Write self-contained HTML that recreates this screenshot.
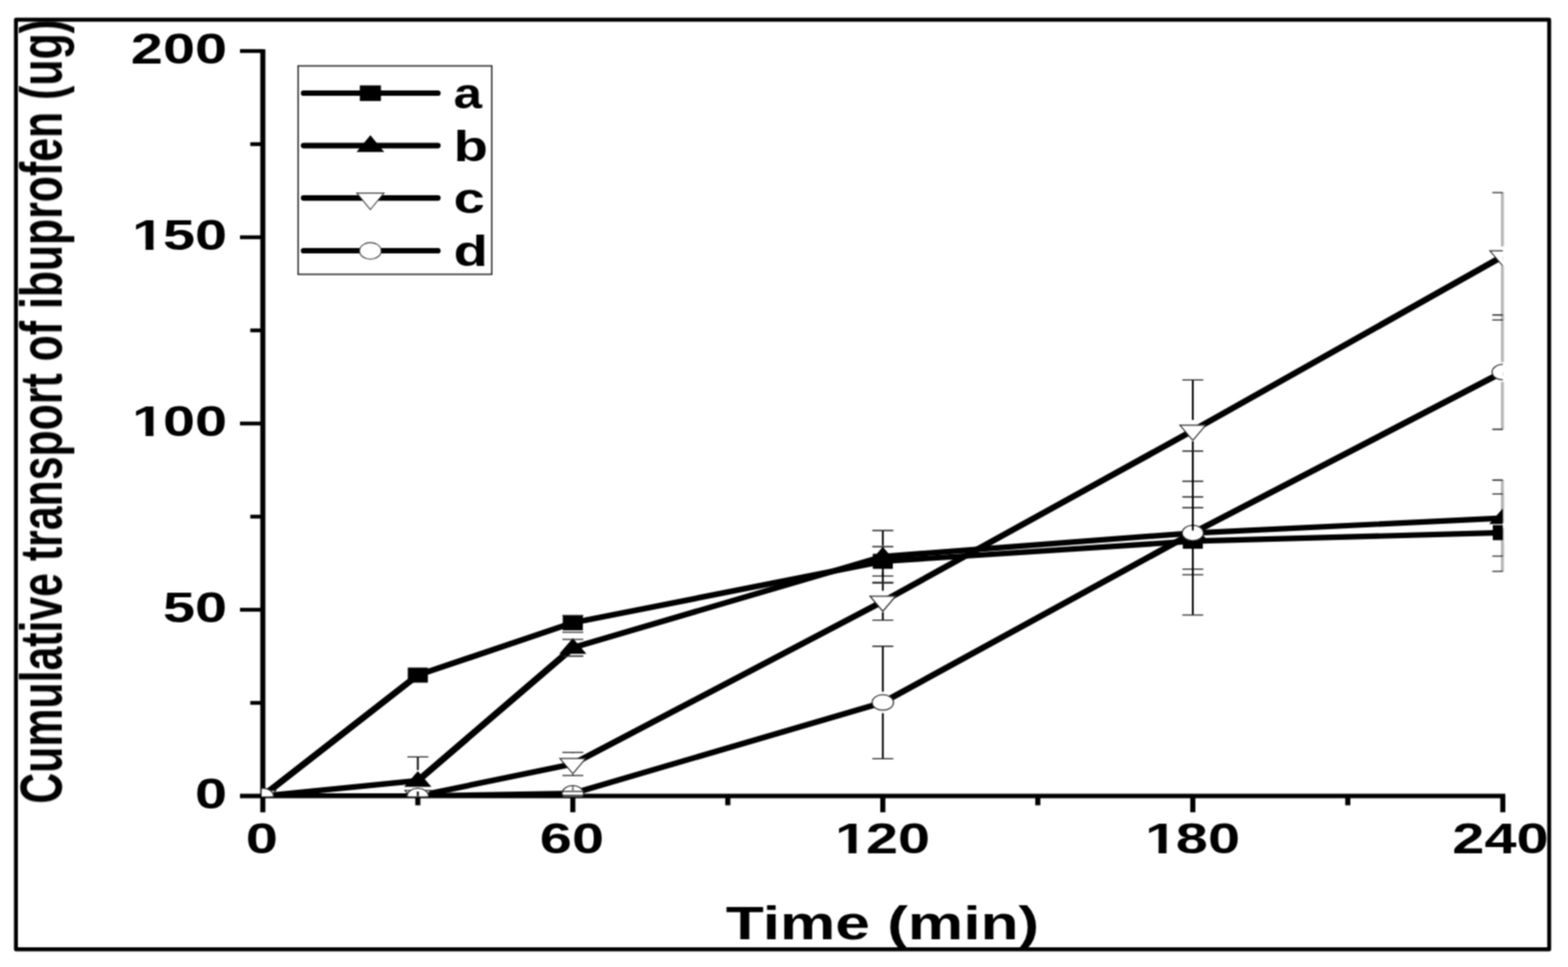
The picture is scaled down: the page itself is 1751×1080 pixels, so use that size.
<!DOCTYPE html>
<html lang="en"><head><meta charset="utf-8"><title>Cumulative transport of ibuprofen</title>
<style>html,body{margin:0;padding:0;background:#fff;}body{width:1751px;height:1080px;overflow:hidden;position:relative;}svg{display:block;position:absolute;left:0;top:0;}text{font-family:"Liberation Sans", Arial, Helvetica, sans-serif;font-weight:bold;fill:#000;}</style></head><body>
<svg width="1751" height="1080" viewBox="0 0 1751 1080" role="img" aria-label="Cumulative transport of ibuprofen (ug) versus Time (min) for series a, b, c and d">
<defs>
<clipPath id="plot"><rect x="292.30" y="30" width="1385.90" height="859.60"/></clipPath>
<filter id="soft" x="0" y="0" width="1751" height="1080" filterUnits="userSpaceOnUse" color-interpolation-filters="sRGB"><feConvolveMatrix order="3" kernelMatrix="1 2 1 2 4 2 1 2 1" edgeMode="duplicate" preserveAlpha="false"/></filter>
<clipPath id="one"><path d="M-100.00 -60H20V20H-52.62V-5.65H-61.20V20H-67.78V-5.65H-100.00Z"/></clipPath>
</defs>
<rect x="0" y="0" width="1751" height="1080" fill="#fff"/>
<g filter="url(#soft)">
<rect x="17.8" y="22" width="1712.2" height="1038.3" fill="none" stroke="#000" stroke-width="4.4" stroke-linejoin="round"/>
<text transform="translate(253.60 902.60) scale(1.3430 1.0100)" font-size="48" text-anchor="end">0</text>
<text transform="translate(253.60 694.60) scale(1.3430 1.0100)" font-size="48" text-anchor="end">50</text>
<text transform="translate(253.60 486.60) scale(1.3430 1.0100)" font-size="48" x="-78.986 -53.391 -26.695" clip-path="url(#one)">100</text>
<text transform="translate(253.60 278.60) scale(1.3430 1.0100)" font-size="48" x="-78.986 -53.391 -26.695" clip-path="url(#one)">150</text>
<text transform="translate(253.60 70.60) scale(1.3430 1.0100)" font-size="48" text-anchor="end">200</text>
<text transform="translate(310.40 953.30) scale(1.3430 1.0100)" font-size="48" text-anchor="end">0</text>
<text transform="translate(674.50 953.30) scale(1.3430 1.0100)" font-size="48" text-anchor="end">60</text>
<text transform="translate(1038.60 953.30) scale(1.3430 1.0100)" font-size="48" x="-78.986 -53.391 -26.695" clip-path="url(#one)">120</text>
<text transform="translate(1384.80 953.30) scale(1.3430 1.0100)" font-size="48" x="-78.986 -53.391 -26.695" clip-path="url(#one)">180</text>
<text transform="translate(1729.40 953.30) scale(1.3430 1.0100)" font-size="48" text-anchor="end">240</text>
<text transform="translate(985.50 1048.80) scale(1.3900 1.0400)" font-size="50" text-anchor="middle">Time (min)</text>
<text transform="translate(69.0 459.5) rotate(-90) scale(0.996 1.385)" font-size="48" text-anchor="middle">Cumulative transport of ibuprofen (ug)</text>
<g stroke="#000" fill="none" stroke-linecap="butt">
<line x1="293.50" y1="55" x2="293.50" y2="907.2" stroke-width="5.7"/>
<line x1="268" y1="889.00" x2="1681" y2="889.00" stroke-width="5"/>
<line x1="268" y1="681.00" x2="293.50" y2="681.00" stroke-width="4.3"/>
<line x1="268" y1="473.00" x2="293.50" y2="473.00" stroke-width="4.3"/>
<line x1="268" y1="265.00" x2="293.50" y2="265.00" stroke-width="4.3"/>
<line x1="268" y1="57.00" x2="293.50" y2="57.00" stroke-width="4.3"/>
<line x1="279.5" y1="785.00" x2="293.50" y2="785.00" stroke-width="4.3"/>
<line x1="279.5" y1="577.00" x2="293.50" y2="577.00" stroke-width="4.3"/>
<line x1="279.5" y1="369.00" x2="293.50" y2="369.00" stroke-width="4.3"/>
<line x1="279.5" y1="161.00" x2="293.50" y2="161.00" stroke-width="4.3"/>
<line x1="639.67" y1="889.00" x2="639.67" y2="907.2" stroke-width="5.7"/>
<line x1="985.85" y1="889.00" x2="985.85" y2="907.2" stroke-width="5.7"/>
<line x1="1332.03" y1="889.00" x2="1332.03" y2="907.2" stroke-width="5.7"/>
<line x1="1678.20" y1="889.00" x2="1678.20" y2="907.2" stroke-width="5.7"/>
<line x1="466.59" y1="889.00" x2="466.59" y2="899.4" stroke-width="5.7"/>
<line x1="812.76" y1="889.00" x2="812.76" y2="899.4" stroke-width="5.7"/>
<line x1="1158.94" y1="889.00" x2="1158.94" y2="899.4" stroke-width="5.7"/>
<line x1="1505.11" y1="889.00" x2="1505.11" y2="899.4" stroke-width="5.7"/>
</g>
<path d="M1677.75 551.62V583.89M1677.75 605.89V638.15" fill="none" stroke="#b6b6b6" stroke-width="3.3"/>
<path d="M1677.75 536.23V567.66M1677.75 589.66V621.10" fill="none" stroke="#b6b6b6" stroke-width="3.3"/>
<path d="M1677.75 215.08V275.22M1677.75 297.22V357.35" fill="none" stroke="#b6b6b6" stroke-width="3.3"/>
<path d="M1677.75 351.74V404.59M1677.75 426.59V479.45" fill="none" stroke="#b6b6b6" stroke-width="3.3"/>
<g clip-path="url(#plot)">
<polyline transform="scale(1.39 1)" points="211.151,889.00 335.674,754.01 460.198,695.56 709.245,626.92 958.291,604.46 1207.338,594.89" fill="none" stroke="#000" stroke-width="6.20" stroke-linejoin="round"/>
<rect x="282.30" y="880.60" width="22.4" height="16.8" fill="#000"/>
<rect x="455.39" y="745.61" width="22.4" height="16.8" fill="#000"/>
<rect x="628.47" y="687.16" width="22.4" height="16.8" fill="#000"/>
<rect x="974.65" y="618.52" width="22.4" height="16.8" fill="#000"/>
<rect x="1320.83" y="596.06" width="22.4" height="16.8" fill="#000"/>
<rect x="1667.00" y="586.49" width="22.4" height="16.8" fill="#000"/>
<polyline transform="scale(1.39 1)" points="211.151,889.00 335.674,871.94 460.198,723.43 709.245,621.51 958.291,595.30 1207.338,578.66" fill="none" stroke="#000" stroke-width="6.20" stroke-linejoin="round"/>
<polygon points="293.50,878.20 308.70,895.70 278.30,895.70" fill="#000"/>
<polygon points="466.59,861.14 481.79,878.64 451.39,878.64" fill="#000"/>
<polygon points="639.67,712.63 654.88,730.13 624.47,730.13" fill="#000"/>
<polygon points="985.85,610.71 1001.05,628.21 970.65,628.21" fill="#000"/>
<polygon points="1332.03,584.50 1347.23,602.00 1316.83,602.00" fill="#000"/>
<polygon points="1678.20,567.86 1693.40,585.36 1663.00,585.36" fill="#000"/>
<polyline transform="scale(1.39 1)" points="211.151,889.00 335.674,889.00 460.198,853.22 709.245,671.85 958.291,480.90 1207.338,286.22" fill="none" stroke="#000" stroke-width="6.20" stroke-linejoin="round"/>
<polygon points="293.50,899.90 307.90,882.90 279.10,882.90" fill="#fff" stroke="#2a2a2a" stroke-width="1.25"/>
<polygon points="466.59,899.90 480.99,882.90 452.19,882.90" fill="#fff" stroke="#2a2a2a" stroke-width="1.25"/>
<polygon points="639.67,864.12 654.07,847.12 625.27,847.12" fill="#fff" stroke="#2a2a2a" stroke-width="1.25"/>
<polygon points="985.85,682.75 1000.25,665.75 971.45,665.75" fill="#fff" stroke="#2a2a2a" stroke-width="1.25"/>
<polygon points="1332.03,491.80 1346.43,474.80 1317.62,474.80" fill="#fff" stroke="#2a2a2a" stroke-width="1.25"/>
<polygon points="1678.20,297.12 1692.60,280.12 1663.80,280.12" fill="#fff" stroke="#2a2a2a" stroke-width="1.25"/>
<polyline transform="scale(1.39 1)" points="211.151,889.00 335.674,889.00 460.198,886.09 709.245,784.58 958.291,595.30 1207.338,415.59" fill="none" stroke="#000" stroke-width="6.20" stroke-linejoin="round"/>
<ellipse cx="293.50" cy="889.00" rx="12.0" ry="8.6" fill="#fff" stroke="#2a2a2a" stroke-width="1.25"/>
<ellipse cx="466.59" cy="889.00" rx="12.0" ry="8.6" fill="#fff" stroke="#2a2a2a" stroke-width="1.25"/>
<ellipse cx="639.67" cy="886.09" rx="12.0" ry="8.6" fill="#fff" stroke="#2a2a2a" stroke-width="1.25"/>
<ellipse cx="985.85" cy="784.58" rx="12.0" ry="8.6" fill="#fff" stroke="#2a2a2a" stroke-width="1.25"/>
<ellipse cx="1332.03" cy="595.30" rx="12.0" ry="8.6" fill="#fff" stroke="#2a2a2a" stroke-width="1.25"/>
<ellipse cx="1678.20" cy="415.59" rx="12.0" ry="8.6" fill="#fff" stroke="#2a2a2a" stroke-width="1.25"/>
<path d="M627.97 687.45H651.38M627.97 706.17H651.38" fill="none" stroke="#222" stroke-width="1.35"/>
<path d="M985.85 610.49V614.92M985.85 638.92V643.35" fill="none" stroke="#000" stroke-width="2.0"/>
<path d="M974.15 610.49H997.55M974.15 643.35H997.55" fill="none" stroke="#222" stroke-width="1.35"/>
<path d="M1332.03 567.02V592.46M1332.03 616.46V641.90" fill="none" stroke="#000" stroke-width="2.0"/>
<path d="M1320.33 567.02H1343.73M1320.33 641.90H1343.73" fill="none" stroke="#222" stroke-width="1.35"/>
<path d="M1666.50 551.62H1689.90M1666.50 638.15H1689.90" fill="none" stroke="#222" stroke-width="1.35"/>
<path d="M466.59 845.32V859.94M466.59 883.94V898.57" fill="none" stroke="#000" stroke-width="2.0"/>
<path d="M454.89 845.32H478.29M454.89 898.57H478.29" fill="none" stroke="#222" stroke-width="1.35"/>
<path d="M627.97 714.07H651.38M627.97 732.79H651.38" fill="none" stroke="#222" stroke-width="1.35"/>
<path d="M985.85 592.52V609.51M985.85 633.51V650.51" fill="none" stroke="#000" stroke-width="2.0"/>
<path d="M974.15 592.52H997.55M974.15 650.51H997.55" fill="none" stroke="#222" stroke-width="1.35"/>
<path d="M1332.03 554.95V583.30M1332.03 607.30V635.66" fill="none" stroke="#000" stroke-width="2.0"/>
<path d="M1320.33 554.95H1343.73M1320.33 635.66H1343.73" fill="none" stroke="#222" stroke-width="1.35"/>
<path d="M1666.50 536.23H1689.90M1666.50 621.10H1689.90" fill="none" stroke="#222" stroke-width="1.35"/>
<path d="M639.67 840.33V841.22M639.67 865.22V866.12" fill="none" stroke="#000" stroke-width="2.0"/>
<path d="M627.97 840.33H651.38M627.97 866.12H651.38" fill="none" stroke="#222" stroke-width="1.35"/>
<path d="M985.85 651.05V659.85M985.85 683.85V692.65" fill="none" stroke="#000" stroke-width="2.0"/>
<path d="M974.15 651.05H997.55M974.15 692.65H997.55" fill="none" stroke="#222" stroke-width="1.35"/>
<path d="M1332.03 424.33V468.90M1332.03 492.90V537.48" fill="none" stroke="#000" stroke-width="2.0"/>
<path d="M1320.33 424.33H1343.73M1320.33 537.48H1343.73" fill="none" stroke="#222" stroke-width="1.35"/>
<path d="M1666.50 215.08H1689.90M1666.50 357.35H1689.90" fill="none" stroke="#222" stroke-width="1.35"/>
<path d="M627.97 883.80H651.38M627.97 888.38H651.38" fill="none" stroke="#222" stroke-width="1.35"/>
<path d="M985.85 721.77V772.58M985.85 796.58V847.40" fill="none" stroke="#000" stroke-width="2.0"/>
<path d="M974.15 721.77H997.55M974.15 847.40H997.55" fill="none" stroke="#222" stroke-width="1.35"/>
<path d="M1332.03 503.78V583.30M1332.03 607.30V686.82" fill="none" stroke="#000" stroke-width="2.0"/>
<path d="M1320.33 503.78H1343.73M1320.33 686.82H1343.73" fill="none" stroke="#222" stroke-width="1.35"/>
<path d="M1666.50 351.74H1689.90M1666.50 479.45H1689.90" fill="none" stroke="#222" stroke-width="1.35"/>
<path d="M639.67 878.2V883.6" fill="none" stroke="#777" stroke-width="2"/>
</g>
<rect x="332.9" y="73.6" width="216.3" height="232.8" fill="#fff" stroke="#2a2a2a" stroke-width="1.6"/>
<line x1="339" y1="104.0" x2="489" y2="104.0" stroke="#000" stroke-width="6.2" stroke-linecap="round"/>
<line x1="339" y1="162.6" x2="489" y2="162.6" stroke="#000" stroke-width="6.2" stroke-linecap="round"/>
<line x1="339" y1="221.1" x2="489" y2="221.1" stroke="#000" stroke-width="6.2" stroke-linecap="round"/>
<line x1="339" y1="280.0" x2="489" y2="280.0" stroke="#000" stroke-width="6.2" stroke-linecap="round"/>
<rect x="401.80" y="95.40" width="23.6" height="17.4" fill="#000"/>
<polygon points="413.60,151.10 429.10,169.70 398.10,169.70" fill="#000"/>
<polygon points="413.60,234.00 428.80,215.60 398.40,215.60" fill="#fff" stroke="#3a3a3a" stroke-width="1.15"/>
<ellipse cx="413.60" cy="280.20" rx="12.1" ry="9.3" fill="#fff" stroke="#3a3a3a" stroke-width="1.15"/>
<text transform="translate(506.60 120.80) scale(1.1900 0.9900)" font-size="48" text-anchor="start">a</text>
<text transform="translate(506.60 179.50) scale(1.3100 0.9900)" font-size="48" text-anchor="start">b</text>
<text transform="translate(506.60 238.40) scale(1.3100 0.9900)" font-size="48" text-anchor="start">c</text>
<text transform="translate(506.60 296.80) scale(1.3100 0.9900)" font-size="48" text-anchor="start">d</text>
</g>
</svg>
</body></html>
